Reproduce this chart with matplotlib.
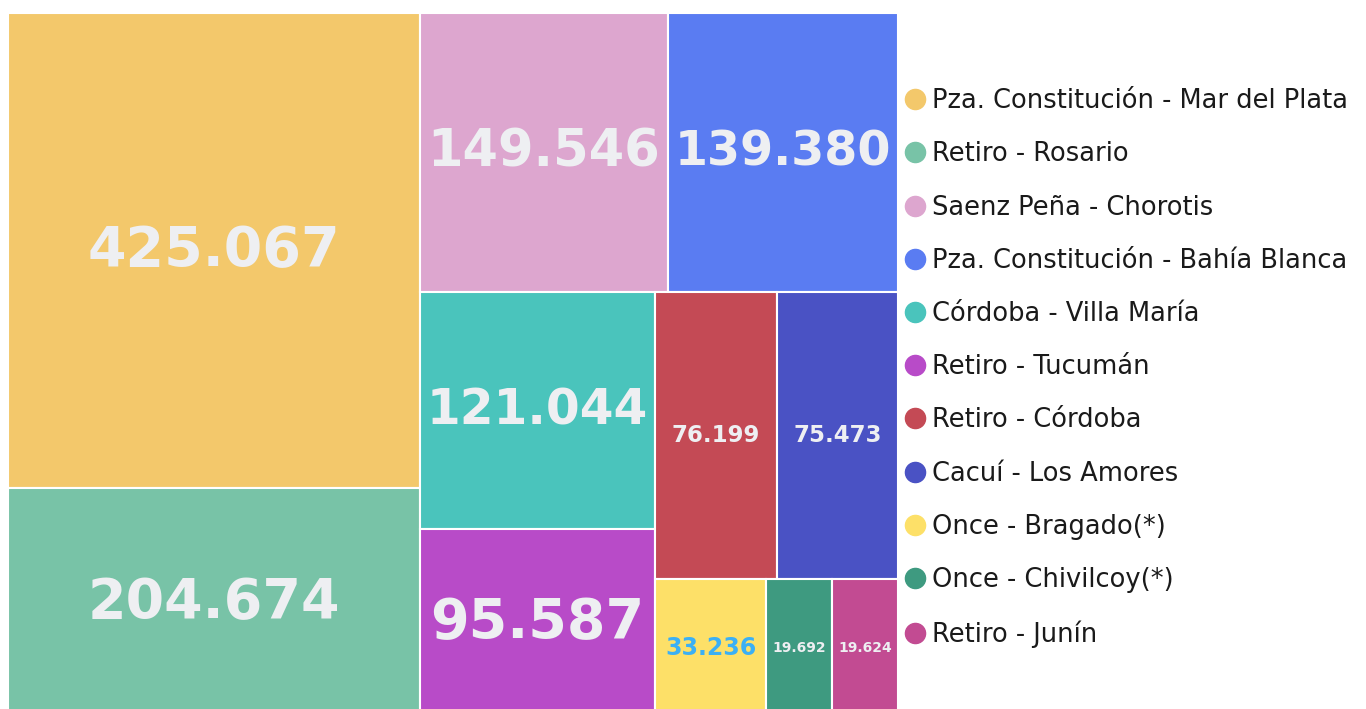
import matplotlib.pyplot as plt
from matplotlib.patches import Rectangle
from matplotlib.lines import Line2D

plt.rcParams['font.family'] = ['DejaVu Sans']

# datos
rutas = ['Pza. Constitución - Mar del Plata', 'Retiro - Rosario', 'Saenz Peña - Chorotis',
         'Pza. Constitución - Bahía Blanca', 'Córdoba - Villa María', 'Retiro - Tucumán',
         'Retiro - Córdoba', 'Cacuí - Los Amores', 'Once - Bragado(*)',
         'Once - Chivilcoy(*)', 'Retiro - Junín']
pasajeros = [425067, 204674, 149546, 139380, 121044, 95587, 76199, 75473, 33236, 19692, 19624]
etiquetas = ['425.067', '204.674', '149.546', '139.380', '121.044', '95.587',
             '76.199', '75.473', '33.236', '19.692', '19.624']

colores = ['#F3C86B', '#78C3A7', '#DDA6CF', '#5A7CF2', '#4AC4BC', '#B84BC8',
           '#C44A55', '#4A52C4', '#FDE068', '#3E9A80', '#C24B92']
color_texto = ['#EEEFF2'] * 8 + ['#3BB0F5', '#EEEFF2', '#EEEFF2']
tam_texto = [40, 40, 40, 40, 40, 40, 16.5, 16.5, 17, 10, 10]


def squarify(values, x0, y0, x1, y1, ratio=1.618):
    # algoritmo squarify (como d3.treemapSquarify)
    rects = []
    value = float(sum(values))
    i0, n = 0, len(values)
    while i0 < n:
        dx, dy = x1 - x0, y1 - y0
        s = values[i0]
        mn = mx = s
        alpha = max(dy / dx, dx / dy) / (value * ratio)
        beta = s * s * alpha
        best = max(mx / beta, beta / mn)
        i1 = i0 + 1
        while i1 < n:
            v = values[i1]
            s += v
            mn, mx = min(mn, v), max(mx, v)
            beta = s * s * alpha
            r = max(mx / beta, beta / mn)
            if r > best:
                s -= v
                break
            best = r
            i1 += 1
        fila = values[i0:i1]
        if dx < dy:
            # fila horizontal arriba
            h = dy * s / value
            xx = x0
            for v in fila:
                w = dx * v / s
                rects.append((xx, y0, w, h))
                xx += w
            y0 += h
        else:
            w = dx * s / value
            yy = y0
            for v in fila:
                h = dy * v / s
                rects.append((x0, yy, w, h))
                yy += h
            x0 += w
        value -= s
        i0 = i1
    return rects


fig = plt.figure(figsize=(13.66, 7.09), dpi=100)
W, H = 1366, 709
# area del treemap en pixeles (se corta un poco abajo)
ax = fig.add_axes([8 / W, 1 - 717 / H, 890 / W, 704 / H])
ax.set_xlim(0, 890)
ax.set_ylim(704, 0)
ax.axis('off')

rects = squarify(pasajeros, 0, 0, 890, 704)
for (x, y, w, h), c, lab, tc, fs in zip(rects, colores, etiquetas, color_texto, tam_texto):
    ax.add_patch(Rectangle((x, y), w, h, facecolor=c, edgecolor='white', linewidth=1.5))
    t = ax.text(x + w / 2, y + h / 2, lab, ha='center', va='center', color=tc,
                fontsize=fs, fontweight='bold')

# achicar textos que no entran
fig.canvas.draw()
r = fig.canvas.get_renderer()
for t, (x, y, w, h) in zip(ax.texts, rects):
    ext = t.get_window_extent(r)
    if ext.width > w * 0.94:
        t.set_fontsize(t.get_fontsize() * w * 0.94 / ext.width)

handles = [Line2D([], [], marker='o', linestyle='none', markersize=14.5,
                  markerfacecolor=c, markeredgecolor=c) for c in colores]
fig.legend(handles, rutas, loc='upper left', bbox_to_anchor=(894 / W, 1 - 78 / H),
           frameon=False, fontsize=18.5, handlelength=0.8, handletextpad=0.28,
           labelspacing=1.058, borderaxespad=0, labelcolor='#1a1a1a')

fig.savefig('out.png', dpi=100)
